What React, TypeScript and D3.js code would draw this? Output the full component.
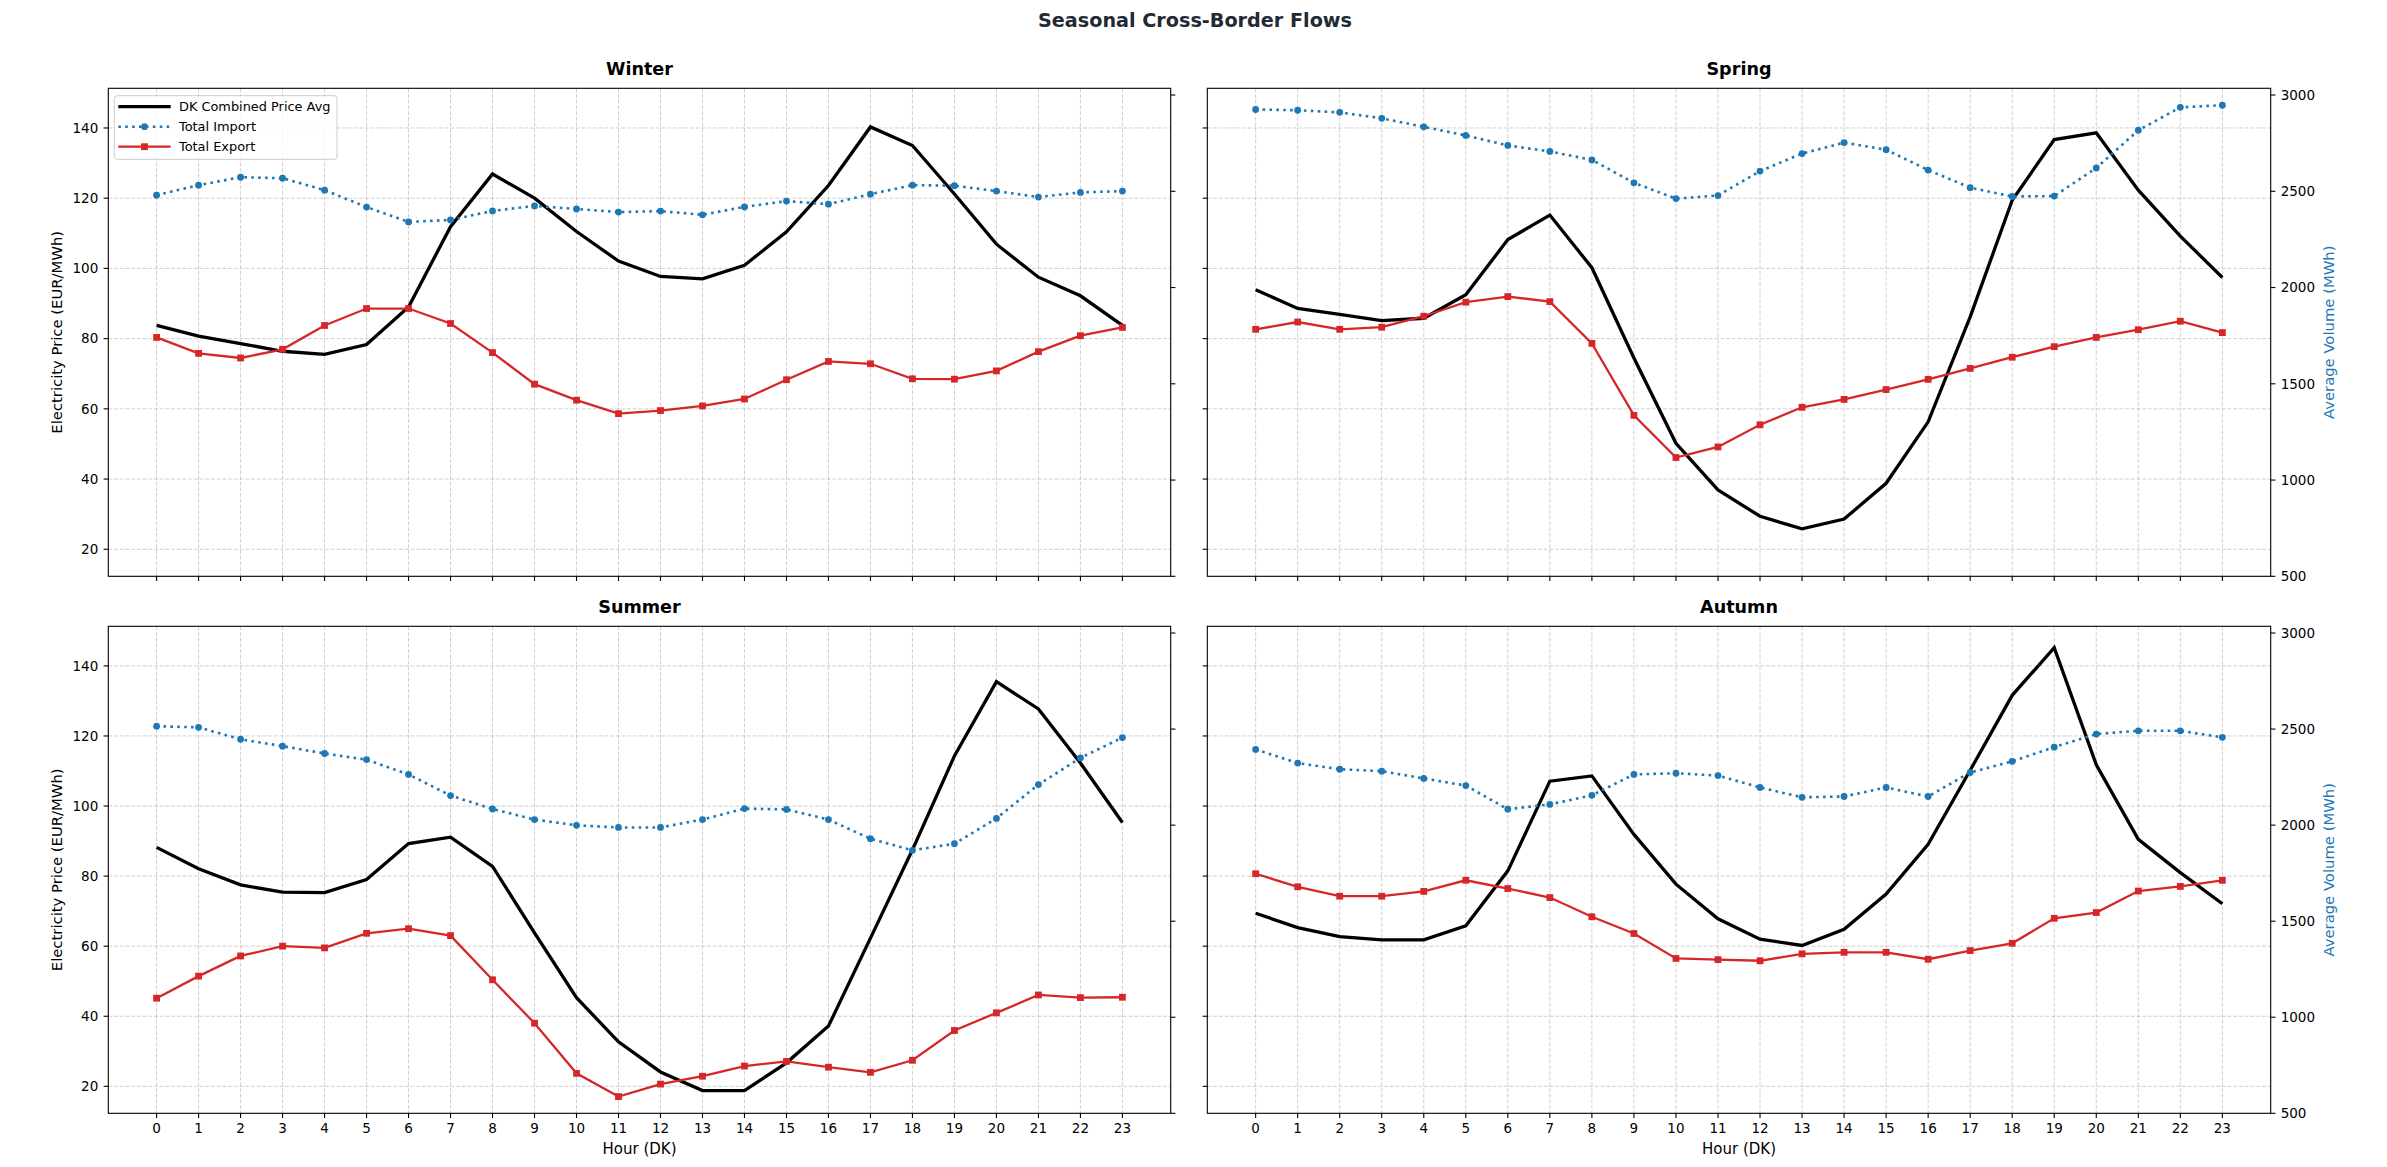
import React, { useEffect, useRef } from "react";
import * as d3 from "d3";

// ---------- data ----------
const hours = [0, 1, 2, 3, 4, 5, 6, 7, 8, 9, 10, 11, 12, 13, 14, 15, 16, 17, 18, 19, 20, 21, 22, 23];
const priceTicks = [20, 40, 60, 80, 100, 120, 140];
const volumeTicks = [500, 1000, 1500, 2000, 2500, 3000];
const seasons = ["Winter", "Spring", "Summer", "Autumn"];
const seriesNames = ["DK Combined Price Avg", "Total Import", "Total Export"];

const winterPrice = [83.8, 80.7, 78.6, 76.4, 75.5, 78.3, 89.0, 111.9, 126.9, 120.0, 110.5, 102.1, 97.7, 97.0, 100.9, 110.4, 123.6, 140.3, 135.0, 121.2, 106.9, 97.5, 92.2, 83.8];
const winterImport = [2480, 2532, 2573, 2568, 2506, 2418, 2341, 2351, 2398, 2424, 2408, 2392, 2397, 2378, 2419, 2449, 2433, 2485, 2532, 2529, 2501, 2470, 2494, 2501];
const winterExport = [1741, 1658, 1634, 1679, 1803, 1891, 1891, 1813, 1662, 1498, 1415, 1345, 1361, 1385, 1421, 1521, 1616, 1604, 1526, 1524, 1567, 1667, 1750, 1793];

const springPrice = [93.9, 88.6, 86.9, 85.1, 85.8, 92.5, 108.2, 115.2, 100.2, 74.5, 50.2, 36.9, 29.4, 25.8, 28.6, 38.8, 56.3, 86.2, 119.4, 136.7, 138.6, 122.3, 109.2, 97.4];
const springImport = [2925, 2921, 2910, 2879, 2835, 2790, 2738, 2707, 2663, 2544, 2462, 2478, 2605, 2696, 2753, 2716, 2610, 2519, 2473, 2475, 2621, 2817, 2936, 2947];
const springExport = [1783, 1821, 1783, 1794, 1851, 1924, 1953, 1927, 1710, 1336, 1117, 1172, 1287, 1378, 1419, 1470, 1523, 1580, 1638, 1693, 1741, 1781, 1825, 1766];

const summerPrice = [88.2, 82.1, 77.5, 75.4, 75.3, 79.0, 89.3, 91.1, 82.8, 63.8, 45.3, 32.7, 24.1, 18.8, 18.8, 26.7, 37.2, 62.3, 87.5, 114.3, 135.5, 127.7, 112.3, 95.3];
const summerImport = [2515, 2509, 2447, 2411, 2373, 2341, 2264, 2154, 2084, 2029, 1999, 1988, 1988, 2029, 2086, 2082, 2029, 1929, 1869, 1903, 2035, 2211, 2350, 2456];
const summerExport = [1099, 1214, 1319, 1370, 1361, 1437, 1461, 1425, 1195, 969, 708, 587, 652, 693, 746, 770, 740, 713, 776, 931, 1023, 1116, 1102, 1104];

const autumnPrice = [69.4, 65.3, 62.7, 61.8, 61.8, 65.8, 81.5, 107.1, 108.6, 91.9, 77.7, 67.8, 62.0, 60.2, 64.8, 74.9, 89.1, 110.2, 131.6, 145.2, 111.8, 90.5, 81.0, 72.1];
const autumnImport = [2394, 2323, 2291, 2281, 2243, 2206, 2083, 2108, 2155, 2264, 2270, 2258, 2196, 2145, 2149, 2196, 2149, 2274, 2332, 2406, 2474, 2491, 2491, 2457];
const autumnExport = [1747, 1679, 1630, 1630, 1655, 1713, 1670, 1623, 1523, 1436, 1306, 1300, 1294, 1330, 1338, 1338, 1302, 1347, 1385, 1515, 1545, 1657, 1681, 1713];

const priceBySeason = [winterPrice, springPrice, summerPrice, autumnPrice];
const importBySeason = [winterImport, springImport, summerImport, autumnImport];
const exportBySeason = [winterExport, springExport, summerExport, autumnExport];

// ---------- layout / style ----------
const W = 2387;
const H = 1167;
const FONT = "'DejaVu Sans', sans-serif";
const C_PRICE = "#000000";
const C_IMP = "#1f77b4";
const C_EXP = "#d62728";
const C_SUPTITLE = "#222a33";
const COLS = [
  [108.3, 1170.7],
  [1207.3, 2270.7],
];
const ROWS = [
  [88.3, 576.3],
  [626.3, 1113.3],
];

export default function App() {
  const ref = useRef<SVGSVGElement | null>(null);

  useEffect(() => {
    const svg = d3.select(ref.current);
    svg.selectAll("*").remove();
    svg.append("rect").attr("width", W).attr("height", H).attr("fill", "#fff");

    svg
      .append("text")
      .attr("x", 1195)
      .attr("y", 26.5)
      .attr("text-anchor", "middle")
      .attr("font-family", FONT)
      .attr("font-weight", "bold")
      .attr("font-size", 19.2)
      .attr("fill", C_SUPTITLE)
      .text("Seasonal Cross-Border Flows");

    seasons.forEach((season, i) => {
      const col = i % 2;
      const row = Math.floor(i / 2);
      const [x0, x1] = COLS[col];
      const [y0, y1] = ROWS[row];
      const x = d3.scaleLinear().domain([-1.15, 24.15]).range([x0, x1]);
      const yP = d3.scaleLinear().domain([12.3, 151.3]).range([y1, y0]);
      const yV = d3.scaleLinear().domain([500, 3035]).range([y1, y0]);
      const g = svg.append("g");

      // grid
      const grid = g.append("g").attr("stroke", "#b0b0b0").attr("stroke-opacity", 0.6).attr("stroke-width", 1).attr("stroke-dasharray", "4,1.7");
      hours.forEach((h) => {
        grid.append("line").attr("x1", x(h)).attr("x2", x(h)).attr("y1", y0).attr("y2", y1);
      });
      priceTicks.forEach((t) => {
        grid.append("line").attr("x1", x0).attr("x2", x1).attr("y1", yP(t)).attr("y2", yP(t));
      });

      // clip
      const clipId = `clip-${i}`;
      g.append("clipPath").attr("id", clipId).append("rect").attr("x", x0).attr("y", y0).attr("width", x1 - x0).attr("height", y1 - y0);
      const plot = g.append("g").attr("clip-path", `url(#${clipId})`);

      const price = priceBySeason[i];
      const imp = importBySeason[i];
      const exp = exportBySeason[i];

      const lineP = d3.line<number>().x((_, k) => x(hours[k])).y((d) => yP(d));
      const lineV = d3.line<number>().x((_, k) => x(hours[k])).y((d) => yV(d));

      plot.append("path").attr("d", lineP(price)!).attr("fill", "none").attr("stroke", C_PRICE).attr("stroke-width", 3.3).attr("stroke-linejoin", "miter");

      plot.append("path").attr("d", lineV(imp)!).attr("fill", "none").attr("stroke", C_IMP).attr("stroke-width", 2.6).attr("stroke-dasharray", "2.6,4.3");
      imp.forEach((d, k) => {
        plot.append("circle").attr("cx", x(hours[k])).attr("cy", yV(d)).attr("r", 3.4).attr("fill", C_IMP);
      });

      plot.append("path").attr("d", lineV(exp)!).attr("fill", "none").attr("stroke", C_EXP).attr("stroke-width", 2.3);
      exp.forEach((d, k) => {
        plot.append("rect").attr("x", x(hours[k]) - 3.4).attr("y", yV(d) - 3.4).attr("width", 6.8).attr("height", 6.8).attr("fill", C_EXP);
      });

      // spines
      g.append("rect").attr("x", x0).attr("y", y0).attr("width", x1 - x0).attr("height", y1 - y0).attr("fill", "none").attr("stroke", "#000").attr("stroke-width", 1.1);

      const tickLen = 4.7;
      const ticks = g.append("g").attr("stroke", "#000").attr("stroke-width", 1.1);
      const labels = g.append("g").attr("font-family", FONT).attr("font-size", 13.5).attr("fill", "#000");

      // x ticks
      hours.forEach((h) => {
        ticks.append("line").attr("x1", x(h)).attr("x2", x(h)).attr("y1", y1).attr("y2", y1 + tickLen);
        if (row === 1) {
          labels.append("text").attr("x", x(h)).attr("y", y1 + 19.8).attr("text-anchor", "middle").text(String(h));
        }
      });
      // left price ticks
      priceTicks.forEach((t) => {
        ticks.append("line").attr("x1", x0 - tickLen).attr("x2", x0).attr("y1", yP(t)).attr("y2", yP(t));
        if (col === 0) {
          labels.append("text").attr("x", x0 - 10).attr("y", yP(t)).attr("dy", "0.36em").attr("text-anchor", "end").text(String(t));
        }
      });
      // right volume ticks
      volumeTicks.forEach((t) => {
        ticks.append("line").attr("x1", x1).attr("x2", x1 + tickLen).attr("y1", yV(t)).attr("y2", yV(t));
        if (col === 1) {
          labels.append("text").attr("x", x1 + 10).attr("y", yV(t)).attr("dy", "0.36em").attr("text-anchor", "start").text(String(t));
        }
      });

      // subplot title
      g.append("text")
        .attr("x", (x0 + x1) / 2)
        .attr("y", y0 - 13.3)
        .attr("text-anchor", "middle")
        .attr("font-family", FONT)
        .attr("font-weight", "bold")
        .attr("font-size", 17.6)
        .attr("fill", "#000")
        .text(season);

      const cy = (y0 + y1) / 2;
      if (col === 0) {
        g.append("text")
          .attr("transform", `translate(57,${cy}) rotate(-90)`)
          .attr("text-anchor", "middle")
          .attr("dy", "0.35em")
          .attr("font-family", FONT)
          .attr("font-size", 14.8)
          .attr("fill", "#000")
          .text("Electricity Price (EUR/MWh)");
      } else {
        g.append("text")
          .attr("transform", `translate(2329,${cy}) rotate(-90)`)
          .attr("text-anchor", "middle")
          .attr("dy", "0.35em")
          .attr("font-family", FONT)
          .attr("font-size", 14.8)
          .attr("fill", C_IMP)
          .text("Average Volume (MWh)");
      }
      if (row === 1) {
        g.append("text")
          .attr("x", (x0 + x1) / 2)
          .attr("y", y1 + 40.8)
          .attr("text-anchor", "middle")
          .attr("font-family", FONT)
          .attr("font-size", 15)
          .attr("fill", "#000")
          .text("Hour (DK)");
      }

      // legend (Winter only)
      if (i === 0) {
        const lg = g.append("g");
        lg.append("rect")
          .attr("x", 114.3)
          .attr("y", 95.7)
          .attr("width", 222.7)
          .attr("height", 63.6)
          .attr("rx", 3)
          .attr("fill", "#fff")
          .attr("fill-opacity", 0.8)
          .attr("stroke", "#cccccc")
          .attr("stroke-width", 1);
        const lx0 = 118.3;
        const lx1 = 170.7;
        const rowsY = [106.7, 126.7, 146.7];
        seriesNames.forEach((name, k) => {
          const ly = rowsY[k];
          if (k === 0) {
            lg.append("line").attr("x1", lx0).attr("x2", lx1).attr("y1", ly).attr("y2", ly).attr("stroke", C_PRICE).attr("stroke-width", 3.3);
          } else if (k === 1) {
            lg.append("line").attr("x1", lx0).attr("x2", lx1).attr("y1", ly).attr("y2", ly).attr("stroke", C_IMP).attr("stroke-width", 2.6).attr("stroke-dasharray", "2.6,4.3");
            lg.append("circle").attr("cx", (lx0 + lx1) / 2).attr("cy", ly).attr("r", 3.4).attr("fill", C_IMP);
          } else {
            lg.append("line").attr("x1", lx0).attr("x2", lx1).attr("y1", ly).attr("y2", ly).attr("stroke", C_EXP).attr("stroke-width", 2.3);
            lg.append("rect").attr("x", (lx0 + lx1) / 2 - 3.4).attr("y", ly - 3.4).attr("width", 6.8).attr("height", 6.8).attr("fill", C_EXP);
          }
          lg.append("text")
            .attr("x", 179)
            .attr("y", ly)
            .attr("dy", "0.36em")
            .attr("font-family", FONT)
            .attr("font-size", 12.9)
            .attr("fill", "#000")
            .text(name);
        });
      }
    });
  }, []);

  return (
    <svg
      ref={ref}
      width={W}
      height={H}
      viewBox={`0 0 ${W} ${H}`}
      style={{ position: "absolute", left: 0, top: 0, display: "block" }}
    />
  );
}
